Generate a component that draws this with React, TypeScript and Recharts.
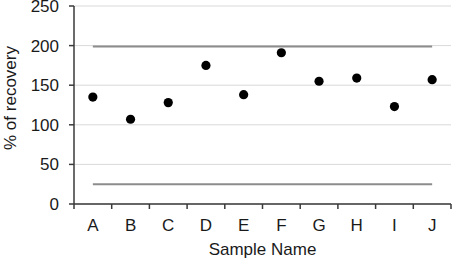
import {
  ComposedChart,
  Scatter,
  XAxis,
  YAxis,
  CartesianGrid,
  ReferenceLine,
} from "recharts";

const SAMPLES = ["A", "B", "C", "D", "E", "F", "G", "H", "I", "J"];
const RECOVERY = [135, 107, 128, 175, 138, 191, 155, 159, 123, 157];
const Y_TICKS = [0, 50, 100, 150, 200, 250];
const UPPER_LIMIT = 199;
const LOWER_LIMIT = 25;

const data = SAMPLES.map((name, i) => ({ name, value: RECOVERY[i] }));

const W = 453;
const H = 260;
const MARGIN = { top: 6, right: 2, bottom: 0, left: 0 };
const Y_AXIS_W = 74;
const X_AXIS_H = 56;
const AXIS_Y = H - MARGIN.bottom - X_AXIS_H;
const BAND = (W - MARGIN.left - MARGIN.right - Y_AXIS_W) / SAMPLES.length;

const FONT = "'Liberation Sans', Arial, sans-serif";
const AXIS = "#3a3a3a";
const TEXT = "#1a1a1a";

function SampleTick(props: {
  x?: number;
  y?: number;
  index?: number;
  payload?: { value?: string };
}) {
  const { x = 0, index = 0, payload } = props;
  const left = x - BAND / 2;
  return (
    <g>
      <line x1={left} x2={left} y1={AXIS_Y} y2={AXIS_Y + 5} stroke={AXIS} strokeWidth={1.5} />
      {index === SAMPLES.length - 1 && (
        <line x1={x + BAND / 2} x2={x + BAND / 2} y1={AXIS_Y} y2={AXIS_Y + 5} stroke={AXIS} strokeWidth={1.5} />
      )}
      <text x={x} y={AXIS_Y + 27} textAnchor="middle" fill={TEXT} fontSize={17} fontFamily={FONT}>
        {payload?.value}
      </text>
    </g>
  );
}

function YTitle() {
  return (
    <text
      x={16}
      y={98}
      transform="rotate(-90 16 98)"
      textAnchor="middle"
      fill={TEXT}
      fontSize={17}
      fontFamily={FONT}
    >
      % of recovery
    </text>
  );
}

function Dot(props: { cx?: number; cy?: number }) {
  return <circle cx={props.cx} cy={props.cy} r={4.6} fill="#000" />;
}

export default function App() {
  return (
    <div style={{ position: "fixed", left: 0, top: 0, background: "#fff", fontFamily: FONT }}>
      <ComposedChart width={W} height={H} data={data} margin={MARGIN}>
        <CartesianGrid vertical={false} stroke="#d9d9d9" strokeWidth={1} />
        <XAxis
          dataKey="name"
          type="category"
          scale="band"
          height={X_AXIS_H}
          axisLine={{ stroke: AXIS, strokeWidth: 1.5 }}
          tickLine={false}
          interval={0}
          tick={<SampleTick />}
          label={{
            value: "Sample Name",
            position: "insideBottom",
            offset: 5,
            fill: TEXT,
            fontSize: 17,
            fontFamily: FONT,
          }}
        />
        <YAxis
          width={Y_AXIS_W}
          domain={[0, 250]}
          ticks={Y_TICKS}
          interval={0}
          axisLine={{ stroke: AXIS, strokeWidth: 1.5 }}
          tickLine={{ stroke: AXIS, strokeWidth: 1.5 }}
          tickSize={5}
          tickMargin={10}
          tick={{ fill: TEXT, fontSize: 17, fontFamily: FONT }}
          label={<YTitle />}
        />
        <ReferenceLine
          segment={[
            { x: SAMPLES[0], y: UPPER_LIMIT },
            { x: SAMPLES[SAMPLES.length - 1], y: UPPER_LIMIT },
          ]}
          stroke="#8c8c8c"
          strokeWidth={2}
        />
        <ReferenceLine
          segment={[
            { x: SAMPLES[0], y: LOWER_LIMIT },
            { x: SAMPLES[SAMPLES.length - 1], y: LOWER_LIMIT },
          ]}
          stroke="#8c8c8c"
          strokeWidth={2}
        />
        <Scatter dataKey="value" shape={<Dot />} isAnimationActive={false} />
      </ComposedChart>
    </div>
  );
}
